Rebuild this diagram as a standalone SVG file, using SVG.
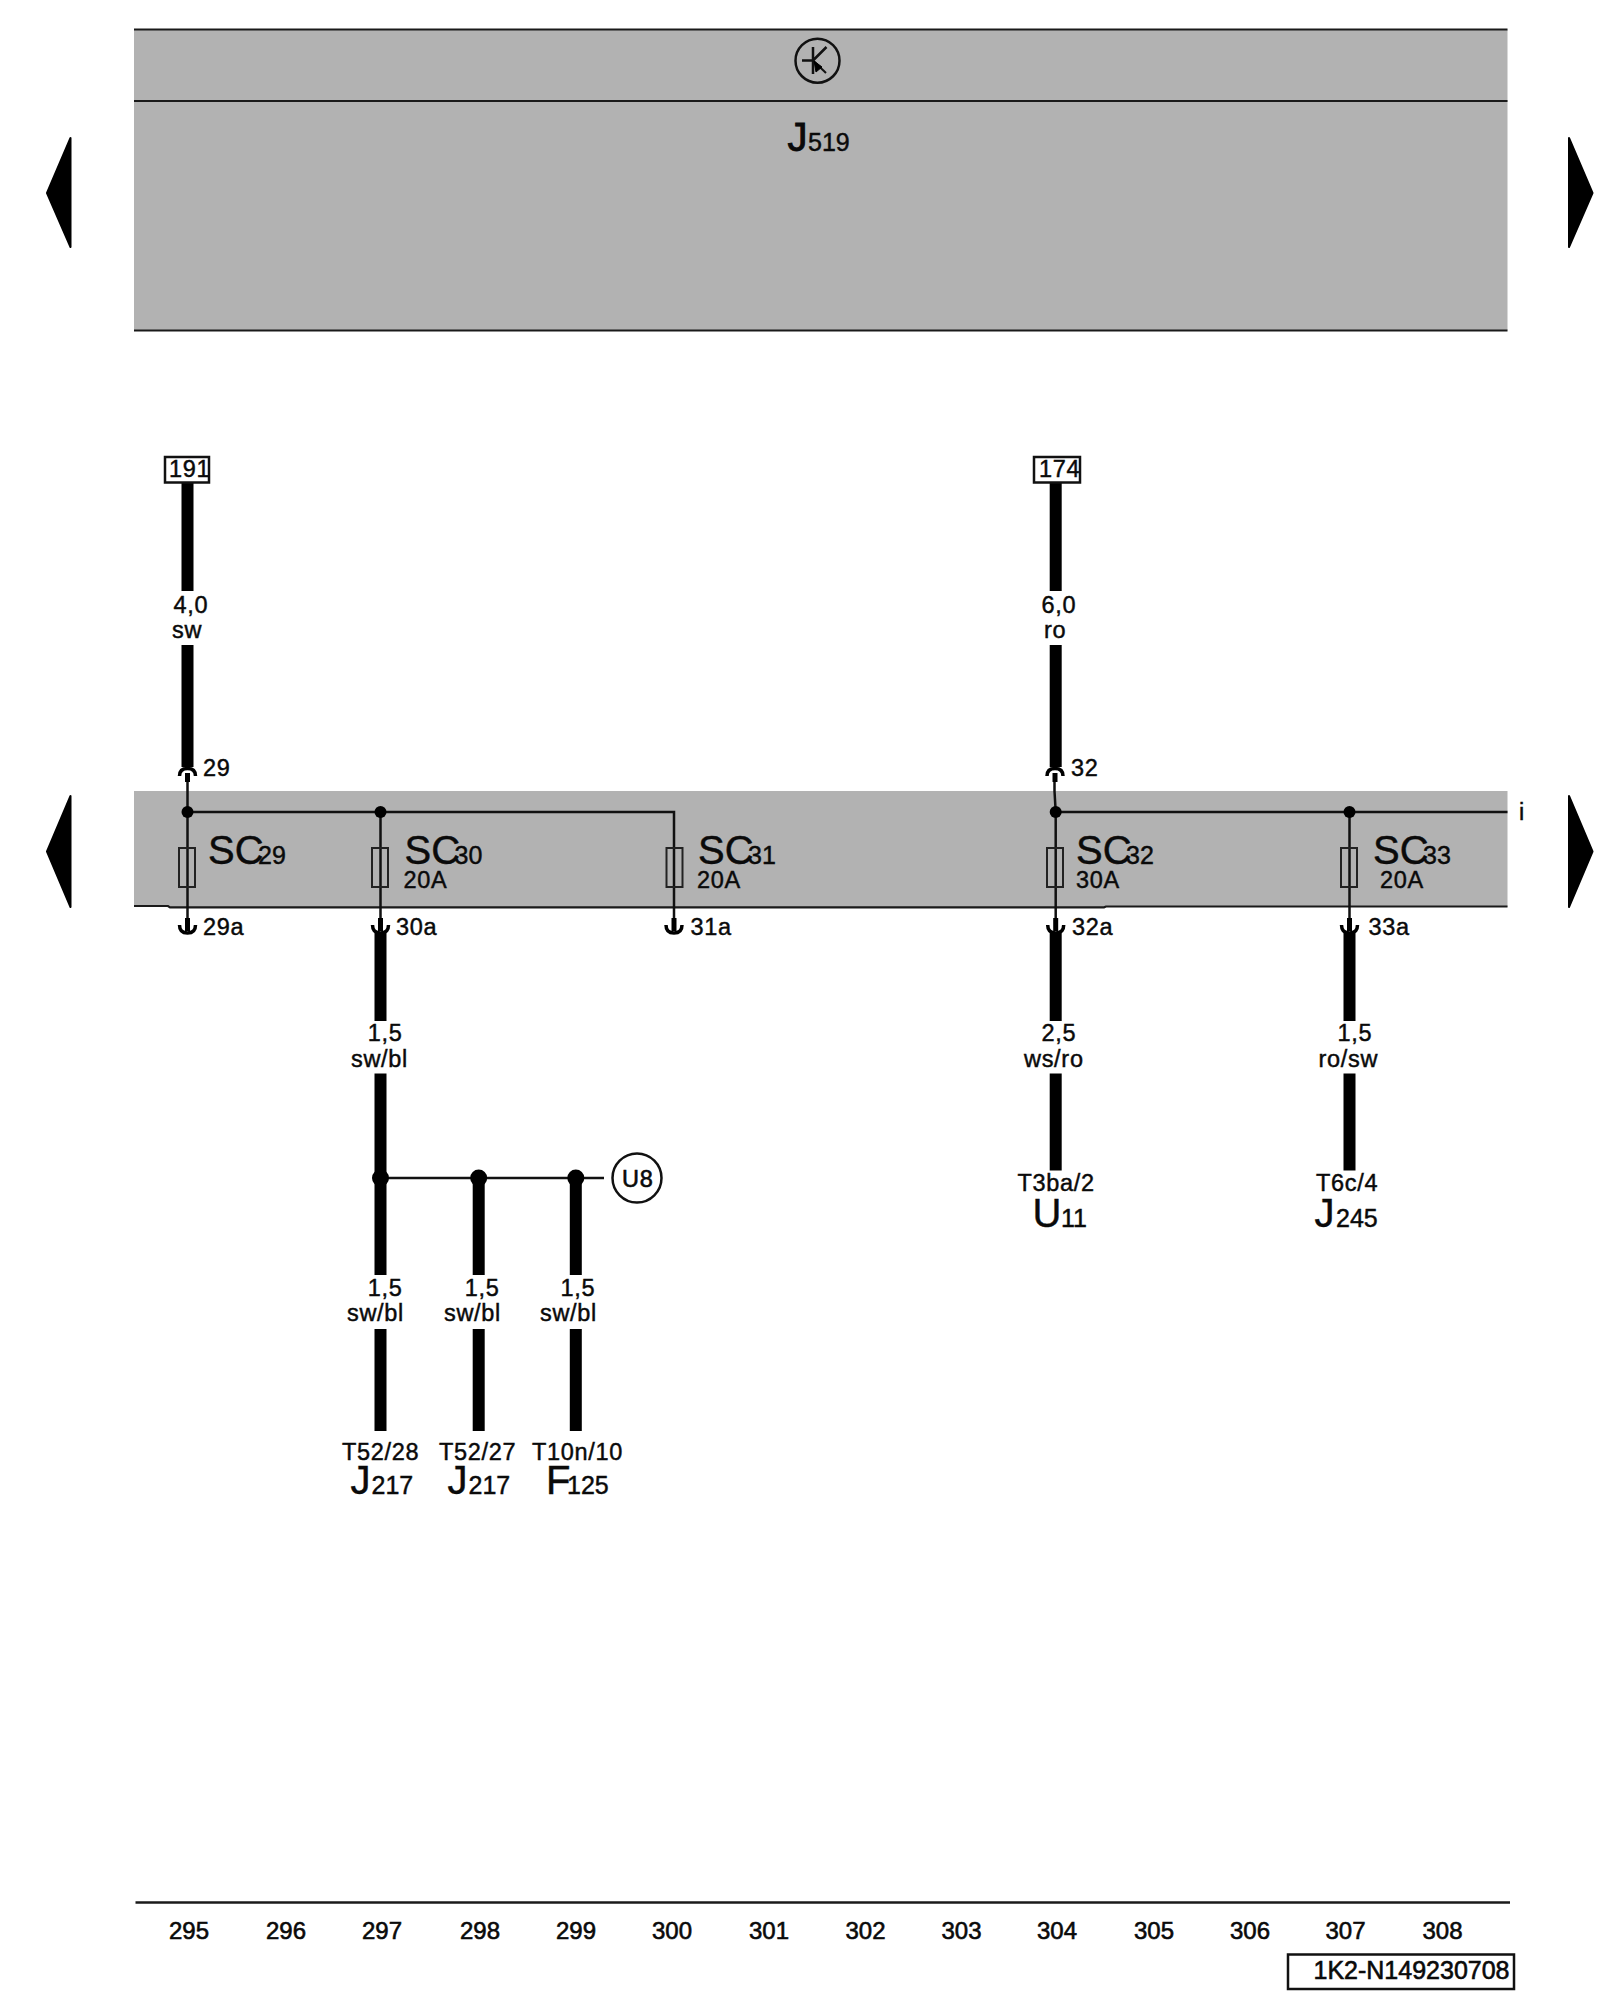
<svg xmlns="http://www.w3.org/2000/svg" xmlns:xlink="http://www.w3.org/1999/xlink" width="1600" height="2000" viewBox="0 0 1600 2000">
<style>
text{font-family:"Liberation Sans",Arial,sans-serif;fill:#0a0a0a;stroke:#0a0a0a;stroke-width:.45}
.t{font-size:23.500px;letter-spacing:.7px}
.b{font-size:40px}
.s{font-size:25px}
.n{font-size:24px;stroke-width:.6}
.band{fill:#b2b2b2}
.rule{stroke:#1a1a1a;stroke-width:2.200;fill:none}
.thin{stroke:#111;stroke-width:2.500;fill:none}
.thick{stroke:#000;stroke-width:12;fill:none}
.fuse{fill:none;stroke:#222;stroke-width:2}
.dot{fill:#000}
.tick{stroke:#000;stroke-width:3.500;fill:none}
.stub{stroke:#000;stroke-width:5;fill:none}
.box{fill:#fff;stroke:#111;stroke-width:2.500}
</style>
<defs>
<g id="termUp"><path class="tick" d="M-8 776Q-8 768.500 0 768.500Q8 768.500 8 776"/><path class="stub" d="M0 773V782"/></g>
<g id="termDown"><path class="tick" d="M-8 925Q-8 933 0 933Q8 933 8 925"/><path class="stub" d="M0 918V931"/></g>
</defs>
<rect width="1600" height="2000" fill="#fff"/>

<g id="J519-module">
<rect class="band" x="134" y="29.500" width="1373.500" height="301"/>
<path class="rule" d="M134 29.500H1507.500M134 101H1507.500M134 330.500H1507.500"/>
<circle cx="817.500" cy="60.700" r="22" fill="none" stroke="#111" stroke-width="2.500"/>
<path d="M813 47V74M802 60.500H813M813 60.500L826.500 47" fill="none" stroke="#111" stroke-width="2.500"/>
<path d="M813 60.500L826 73" fill="none" stroke="#111" stroke-width="2"/>
<path d="M814 61L816 72L822 67Z" fill="#000" stroke="#000"/>
<text x="787.500" y="150.500" class="b" style="stroke-width:.9">J</text>
<text x="808" y="150.500" style="font-size:25px">519</text>
</g>

<g id="page-arrows" fill="#000" stroke="#000" stroke-width="2" stroke-linejoin="round">
<path d="M70.500 138L47 193L70.500 247Z"/>
<path d="M1569 138L1592.500 193L1569 247Z"/>
<path d="M70.500 796L47 851.500L70.500 907Z"/>
<path d="M1569 796L1592.500 851.500L1569 907Z"/>
</g>

<g id="fuse-band">
<rect class="band" x="134" y="791" width="1373.500" height="116"/>
<path class="rule" d="M134 906H168L170 907.300H1104L1106 906.500H1507.500"/>
</g>

<g id="connectors">
<path class="thin" d="M187.500 812H674V920M187.500 781V920M380.500 812V920"/>
<path class="thin" d="M1054.500 781V791L1055.700 812V920M1055.700 812H1507.500M1349.500 812V920"/>
<path class="thick" d="M187.500 482V591M187.500 645V767M1055.700 482V591M1055.700 645V767"/>
<path class="thick" d="M380.500 932V1021M380.500 1073.500V1275M380.500 1329V1431"/>
<path class="thick" d="M478.700 1178V1275M478.700 1329V1431M575.800 1178V1275M575.800 1329V1431"/>
<path class="thick" d="M1055.700 932V1021M1055.700 1073.500V1170.500M1349.500 932V1021M1349.500 1073.500V1170.500"/>
<path class="thin" d="M380.500 1178H604"/>
<use xlink:href="#termUp" href="#termUp" x="187.500"/>
<use xlink:href="#termUp" href="#termUp" x="1055"/>
<use xlink:href="#termDown" href="#termDown" x="187.500"/>
<use xlink:href="#termDown" href="#termDown" x="380.500"/>
<use xlink:href="#termDown" href="#termDown" x="674"/>
<use xlink:href="#termDown" href="#termDown" x="1055.700"/>
<use xlink:href="#termDown" href="#termDown" x="1349.500"/>
<circle class="dot" cx="187.500" cy="812" r="6"/>
<circle class="dot" cx="380.500" cy="812" r="6"/>
<circle class="dot" cx="1055.700" cy="812" r="6"/>
<circle class="dot" cx="1349.500" cy="812" r="6"/>
<circle class="dot" cx="380.500" cy="1178" r="8.500"/>
<circle class="dot" cx="478.700" cy="1178" r="8.500"/>
<circle class="dot" cx="575.800" cy="1178" r="8.500"/>
</g>

<g id="ref-191"><rect class="box" x="165" y="457" width="44" height="25.500"/><text class="t" x="169" y="477">191</text></g>
<g id="ref-174"><rect class="box" x="1034" y="457" width="46" height="25.500"/><text class="t" x="1039" y="477">174</text></g>

<g id="wire-29-label"><text class="t" x="173.500" y="612.500">4,0</text><text class="t" x="172" y="637.500">sw</text></g>
<g id="wire-32-label"><text class="t" x="1041.500" y="612.500">6,0</text><text class="t" x="1044" y="637.500">ro</text></g>

<g id="SC29"><rect class="fuse" x="179" y="848" width="16" height="39"/><text class="t" x="203" y="775.700">29</text><text class="b" x="208" y="864">SC</text><text class="s" x="258" y="864">29</text><text class="t" x="203" y="935">29a</text></g>
<g id="SC30"><rect class="fuse" x="372" y="848" width="16" height="39"/><text class="b" x="404.500" y="864">SC</text><text class="s" x="454.500" y="864">30</text><text class="t" x="403.500" y="887.500">20A</text><text class="t" x="396" y="935">30a</text></g>
<g id="SC31"><rect class="fuse" x="666.500" y="848" width="16" height="39"/><text class="b" x="698" y="864">SC</text><text class="s" x="748" y="864">31</text><text class="t" x="697" y="887.500">20A</text><text class="t" x="690.500" y="935">31a</text></g>
<g id="SC32"><rect class="fuse" x="1047" y="848" width="16" height="39"/><text class="t" x="1071" y="775.700">32</text><text class="b" x="1076" y="864">SC</text><text class="s" x="1126" y="864">32</text><text class="t" x="1076" y="887.500">30A</text><text class="t" x="1072" y="935">32a</text></g>
<g id="SC33"><rect class="fuse" x="1341" y="848" width="16" height="39"/><text class="b" x="1373" y="864">SC</text><text class="s" x="1423" y="864">33</text><text class="t" x="1380" y="887.500">20A</text><text class="t" x="1368.500" y="935">33a</text></g>
<g id="bus-i"><text class="t" x="1519" y="820">i</text></g>

<g id="wire-30-label"><text class="t" x="367.700" y="1040.700">1,5</text><text class="t" x="351" y="1067">sw/bl</text></g>
<g id="wire-32a-label"><text class="t" x="1041.500" y="1040.700">2,5</text><text class="t" x="1024" y="1067">ws/ro</text></g>
<g id="wire-33a-label"><text class="t" x="1337.500" y="1040.700">1,5</text><text class="t" x="1318.500" y="1067">ro/sw</text></g>

<g id="U8"><circle cx="637" cy="1178" r="24.500" fill="#fff" stroke="#111" stroke-width="2.500"/><text class="t" x="622" y="1187" style="stroke-width:.6">U8</text></g>

<g id="U11"><text class="t" x="1017.500" y="1191">T3ba/2</text><text class="b" x="1032.500" y="1227">U</text><text class="s" x="1061" y="1227">11</text></g>
<g id="J245"><text class="t" x="1316" y="1191">T6c/4</text><text class="b" x="1314.500" y="1227">J</text><text class="s" x="1336" y="1227">245</text></g>

<g id="wire-297-label"><text class="t" x="367.700" y="1295.500">1,5</text><text class="t" x="347" y="1321">sw/bl</text></g>
<g id="wire-298-label"><text class="t" x="464.700" y="1295.500">1,5</text><text class="t" x="444" y="1321">sw/bl</text></g>
<g id="wire-299-label"><text class="t" x="560.500" y="1295.500">1,5</text><text class="t" x="540" y="1321">sw/bl</text></g>

<g id="J217-28"><text class="t" x="342" y="1460">T52/28</text><text class="b" x="350.500" y="1494">J</text><text class="s" x="371.500" y="1494">217</text></g>
<g id="J217-27"><text class="t" x="439" y="1460">T52/27</text><text class="b" x="447.500" y="1494">J</text><text class="s" x="468.500" y="1494">217</text></g>
<g id="F125"><text class="t" x="532" y="1460">T10n/10</text><text class="b" x="546" y="1494">F</text><text class="s" x="567" y="1494">125</text></g>

<g id="footer">
<path class="rule" d="M135.500 1902.500H1510" style="stroke-width:2.500"/>
<g text-anchor="middle">
<text class="n" x="189" y="1938.500">295</text><text class="n" x="286" y="1938.500">296</text><text class="n" x="382" y="1938.500">297</text><text class="n" x="480" y="1938.500">298</text><text class="n" x="576" y="1938.500">299</text><text class="n" x="672" y="1938.500">300</text><text class="n" x="769" y="1938.500">301</text><text class="n" x="865.500" y="1938.500">302</text><text class="n" x="961.500" y="1938.500">303</text><text class="n" x="1057" y="1938.500">304</text><text class="n" x="1154" y="1938.500">305</text><text class="n" x="1250" y="1938.500">306</text><text class="n" x="1345.500" y="1938.500">307</text><text class="n" x="1442.500" y="1938.500">308</text>
</g>
<rect x="1288" y="1954.500" width="226" height="34.500" fill="none" stroke="#111" stroke-width="2.500"/>
<text x="1313.500" y="1979" style="font-size:25px;stroke-width:.6">1K2-N149230708</text>
</g>
</svg>
